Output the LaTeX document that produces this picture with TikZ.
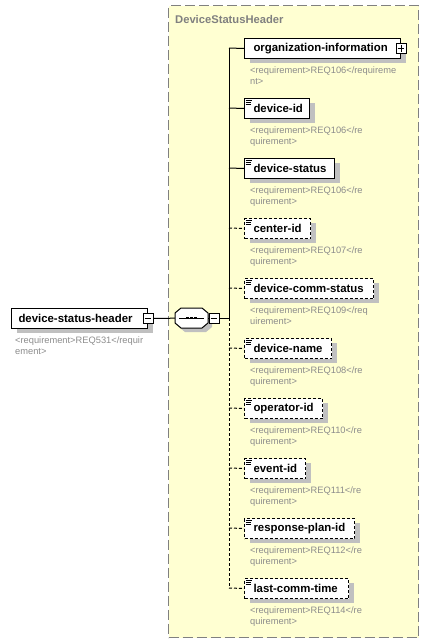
\documentclass[tikz,border=0pt]{standalone}
\usepackage{fontspec}
\setmainfont{Liberation Sans}
\usetikzlibrary{shadows}
\definecolor{bgyellow}{RGB}{255,255,210}
\definecolor{shadowgray}{RGB}{192,192,192}
\definecolor{reqgray}{RGB}{140,140,140}
\definecolor{framegray}{RGB}{128,128,128}
\newcommand\elemicon[1]{%
  \draw[line width=0.7pt] ([shift={(1.5,2.5)}]#1.north west) -- ++(6,0)
    ([shift={(1.5,4.5)}]#1.north west) -- ++(5,0)
    ([shift={(1.5,6.5)}]#1.north west) -- ++(5,0);}
\newcommand\minussign[1]{%
  \draw[line width=0.8pt] ([xshift=2pt]#1.west) -- ([xshift=-2pt]#1.east);}
\begin{document}
\begin{tikzpicture}[x=1pt,y=-1pt,
  elem/.style={draw=black, line width=1pt, fill=white, anchor=north west,
    minimum height=20pt, inner ysep=0pt, inner xsep=9pt, align=left,
    font=\fontsize{11.4}{12}\selectfont\bfseries,
    general shadow={fill=shadowgray, shadow xshift=5pt, shadow yshift=-4pt}},
  optelem/.style={elem, dash pattern=on 3pt off 2pt},
  req/.style={anchor=base west, inner sep=0pt, text=reqgray,
    font=\fontsize{9.3}{11}\selectfont},
  pmbox/.style={draw=black, line width=0.8pt, fill=white, minimum size=10pt, inner sep=0pt},
  conn/.style={line width=1pt},
  optconn/.style={line width=1pt, dash pattern=on 3pt off 2pt},
]
\useasboundingbox (0,0) rectangle (429,643);

% group frame
\node[draw=framegray, line width=1.3pt, dash pattern=on 10pt off 4pt, fill=bgyellow,
  anchor=north west, minimum width=250pt, minimum height=632pt, inner sep=0pt] (grp) at (168,5) {};
\node[anchor=base west, inner sep=0pt, text=framegray,
  font=\fontsize{11.2}{12}\selectfont\bfseries] (title) at (175,23) {DeviceStatusHeader};

% root element
\node[elem, inner xsep=7pt, text width=122pt] (root) at (11,308) {\mbox{device-status-header}};
\node[pmbox] (m0) at (root.east) {};
\minussign{m0}
\node[req] (rq0a) at (15,343) {<requirement>REQ531</requir};
\node[req] (rq0b) at (15,354) {ement>};

% sequence compositor
\fill[shadowgray] (179,317) -- (185,312) -- (206,312) -- (212,317) -- (212,327) -- (206,332) -- (185,332) -- (179,327) -- cycle;
\draw[line width=1pt, fill=white] (175,313) -- (181,308) -- (202,308) -- (208,313) -- (208,323) -- (202,328) -- (181,328) -- (175,323) -- cycle;
\node[minimum width=33pt, minimum height=20pt, inner sep=0pt] (seq) at (191.5,318) {};
\draw[line width=1pt] (179,318) -- (204,318);
\foreach \dx in {187.5,191.5,195.5} \fill (\dx-1.3,316.7) rectangle (\dx+1.3,319.3);
\node[pmbox] (m1) at (214,318) {};
\minussign{m1}

\draw[conn] (m0) -- (seq);
\draw[conn] (seq.east) -- (m1.west);

% bus
\coordinate (busTop) at (229,48);
\coordinate (busMid) at (229,318);
\coordinate (busBot) at (229,588);
\draw[conn] (m1.east) -- (busMid);
\draw[conn] (busTop) -- (busMid);
\draw[optconn] (busMid) -- (busBot);

% children
\node[elem, text width=138pt] (orginfo) at (244,38) {\mbox{organization-information}};
\node[pmbox] (p1) at (orginfo.east) {};
\draw[line width=0.8pt] ([xshift=2pt]p1.west) -- ([xshift=-2pt]p1.east)
  ([yshift=2pt]p1.south) -- ([yshift=-2pt]p1.north);
\node[req] at (250,73) {<requirement>REQ106</requireme};
\node[req] at (250,84) {nt>};

\node[elem, text width=47pt] (devid) at (244,98) {\mbox{device-id}};
\elemicon{devid}
\node[req] at (250,133) {<requirement>REQ106</re};
\node[req] at (250,144) {quirement>};

\node[elem, text width=72pt] (devstatus) at (244,158) {\mbox{device-status}};
\elemicon{devstatus}
\node[req] at (250,193) {<requirement>REQ106</re};
\node[req] at (250,204) {quirement>};

\node[optelem, text width=48pt] (centerid) at (244,218) {\mbox{center-id}};
\elemicon{centerid}
\node[req] at (250,253) {<requirement>REQ107</re};
\node[req] at (250,264) {quirement>};

\node[optelem, text width=111pt] (commstatus) at (244,278) {\mbox{device-comm-status}};
\elemicon{commstatus}
\node[req] at (250,313) {<requirement>REQ109</req};
\node[req] at (250,324) {uirement>};

\node[optelem, text width=69pt] (devname) at (244,338) {\mbox{device-name}};
\elemicon{devname}
\node[req] at (250,373) {<requirement>REQ108</re};
\node[req] at (250,384) {quirement>};

\node[optelem, text width=60pt] (operid) at (244,398) {\mbox{operator-id}};
\elemicon{operid}
\node[req] at (250,433) {<requirement>REQ110</re};
\node[req] at (250,444) {quirement>};

\node[optelem, text width=43pt] (eventid) at (244,458) {\mbox{event-id}};
\elemicon{eventid}
\node[req] at (250,493) {<requirement>REQ111</re};
\node[req] at (250,504) {quirement>};

\node[optelem, text width=92pt] (rpid) at (244,518) {\mbox{response-plan-id}};
\elemicon{rpid}
\node[req] at (250,553) {<requirement>REQ112</re};
\node[req] at (250,564) {quirement>};

\node[optelem, text width=86pt] (lct) at (244,578) {\mbox{last-comm-time}};
\elemicon{lct}
\node[req] at (250,613) {<requirement>REQ114</re};
\node[req] at (250,624) {quirement>};

% connectors from bus
\coordinate (b1) at (229,48);
\coordinate (b2) at (229,108);
\coordinate (b3) at (229,168);
\coordinate (b4) at (229,228);
\coordinate (b5) at (229,288);
\coordinate (b6) at (229,348);
\coordinate (b7) at (229,408);
\coordinate (b8) at (229,468);
\coordinate (b9) at (229,528);
\coordinate (b10) at (229,588);
\draw[conn] (b1) -- (orginfo.west);
\draw[conn] (b2) -- (devid.west);
\draw[conn] (b3) -- (devstatus.west);
\draw[optconn] (b4) -- (centerid.west);
\draw[optconn] (b5) -- (commstatus.west);
\draw[optconn] (b6) -- (devname.west);
\draw[optconn] (b7) -- (operid.west);
\draw[optconn] (b8) -- (eventid.west);
\draw[optconn] (b9) -- (rpid.west);
\draw[optconn] (b10) -- (lct.west);
\end{tikzpicture}
\end{document}
